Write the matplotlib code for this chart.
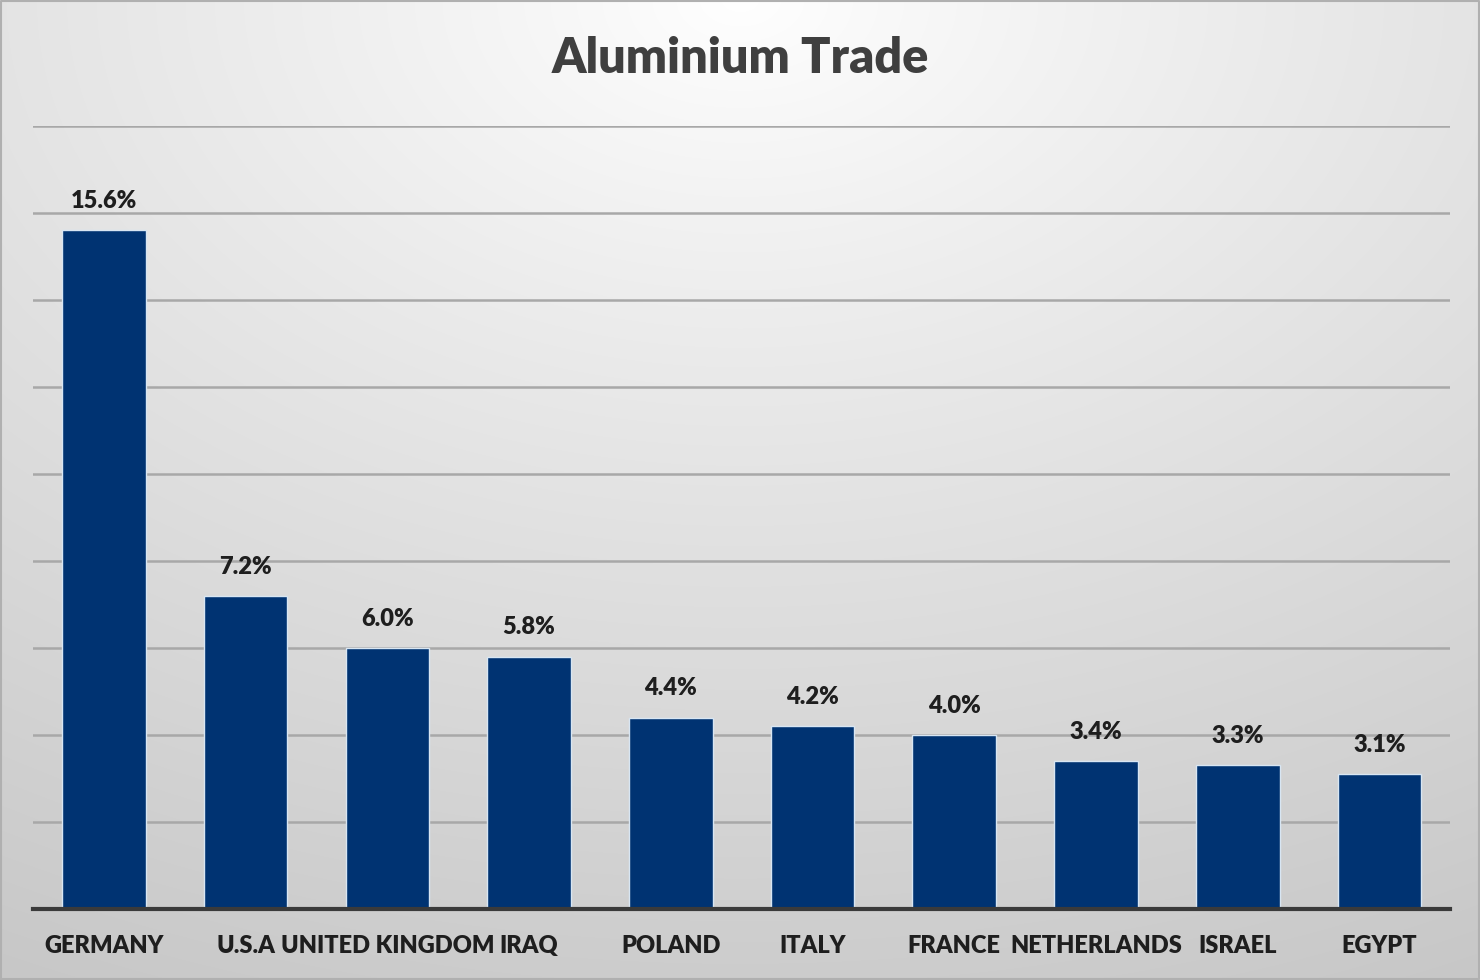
import numpy as np
import matplotlib.pyplot as plt

countries = ["GERMANY", "U.S.A", "UNITED KINGDOM", "IRAQ", "POLAND",
             "ITALY", "FRANCE", "NETHERLANDS", "ISRAEL", "EGYPT"]
shares = [15.6, 7.2, 6.0, 5.8, 4.4, 4.2, 4.0, 3.4, 3.3, 3.1]

plt.rcParams['font.family'] = ['Lato', 'DejaVu Sans']

fig = plt.figure(figsize=(14.8, 9.8), dpi=100)

# radial gradient background, light at top centre
bg = fig.add_axes([0, 0, 1, 1], zorder=0)
yy, xx = np.mgrid[0:980, 0:1480]
d = np.sqrt(((xx - 740) / 1480.0) ** 2 + ((yy - 0) / 980.0) ** 2)
d = d / d.max()
shade = 1.0 - 0.22 * d ** 0.9
bg.imshow(np.dstack([shade, shade, shade]), aspect='auto', extent=[0, 1, 0, 1])
bg.plot([0.001, 0.999, 0.999, 0.001, 0.001], [0.001, 0.001, 0.999, 0.999, 0.001],
        color='#b0b0b0', lw=1.5)
bg.set_xlim(0, 1)
bg.set_ylim(0, 1)
bg.axis('off')

ax = fig.add_axes([0.0223, 0.0724, 0.9577, 0.799], zorder=1)
ax.patch.set_alpha(0)

x = np.arange(len(countries))
ax.bar(x, shares, width=0.59, color='#003372', edgecolor='#d8e6f3', linewidth=1, zorder=3)

for xi, v in zip(x, shares):
    ax.text(xi, v + 0.42, f"{v:.1f}%", ha='center', va='bottom',
            fontsize=17, fontweight='heavy', color='#1e1e1e', zorder=4)

ax.set_xlim(-0.5, len(countries) - 0.5)
ax.set_ylim(0, 18)
ax.set_yticks(np.arange(0, 19, 2))
ax.set_yticklabels([])
ax.tick_params(axis='y', length=0)
ax.tick_params(axis='x', length=0, pad=19)
ax.set_xticks(x)
ax.set_xticklabels(countries, fontsize=17, fontweight='heavy', color='#1e1e1e')
ax.grid(axis='y', color='#a8a8a8', lw=1.8, zorder=0)
for s in ['top', 'right', 'left']:
    ax.spines[s].set_visible(False)
ax.spines['bottom'].set_color('#3a3a3a')
ax.spines['bottom'].set_linewidth(3)
ax.spines['bottom'].set_zorder(5)

fig.text(0.5, 0.94, "Aluminium Trade", ha='center', va='center',
         fontsize=35, fontweight='heavy', color='#3f3f3f')

fig.savefig("out.png", dpi=100)
